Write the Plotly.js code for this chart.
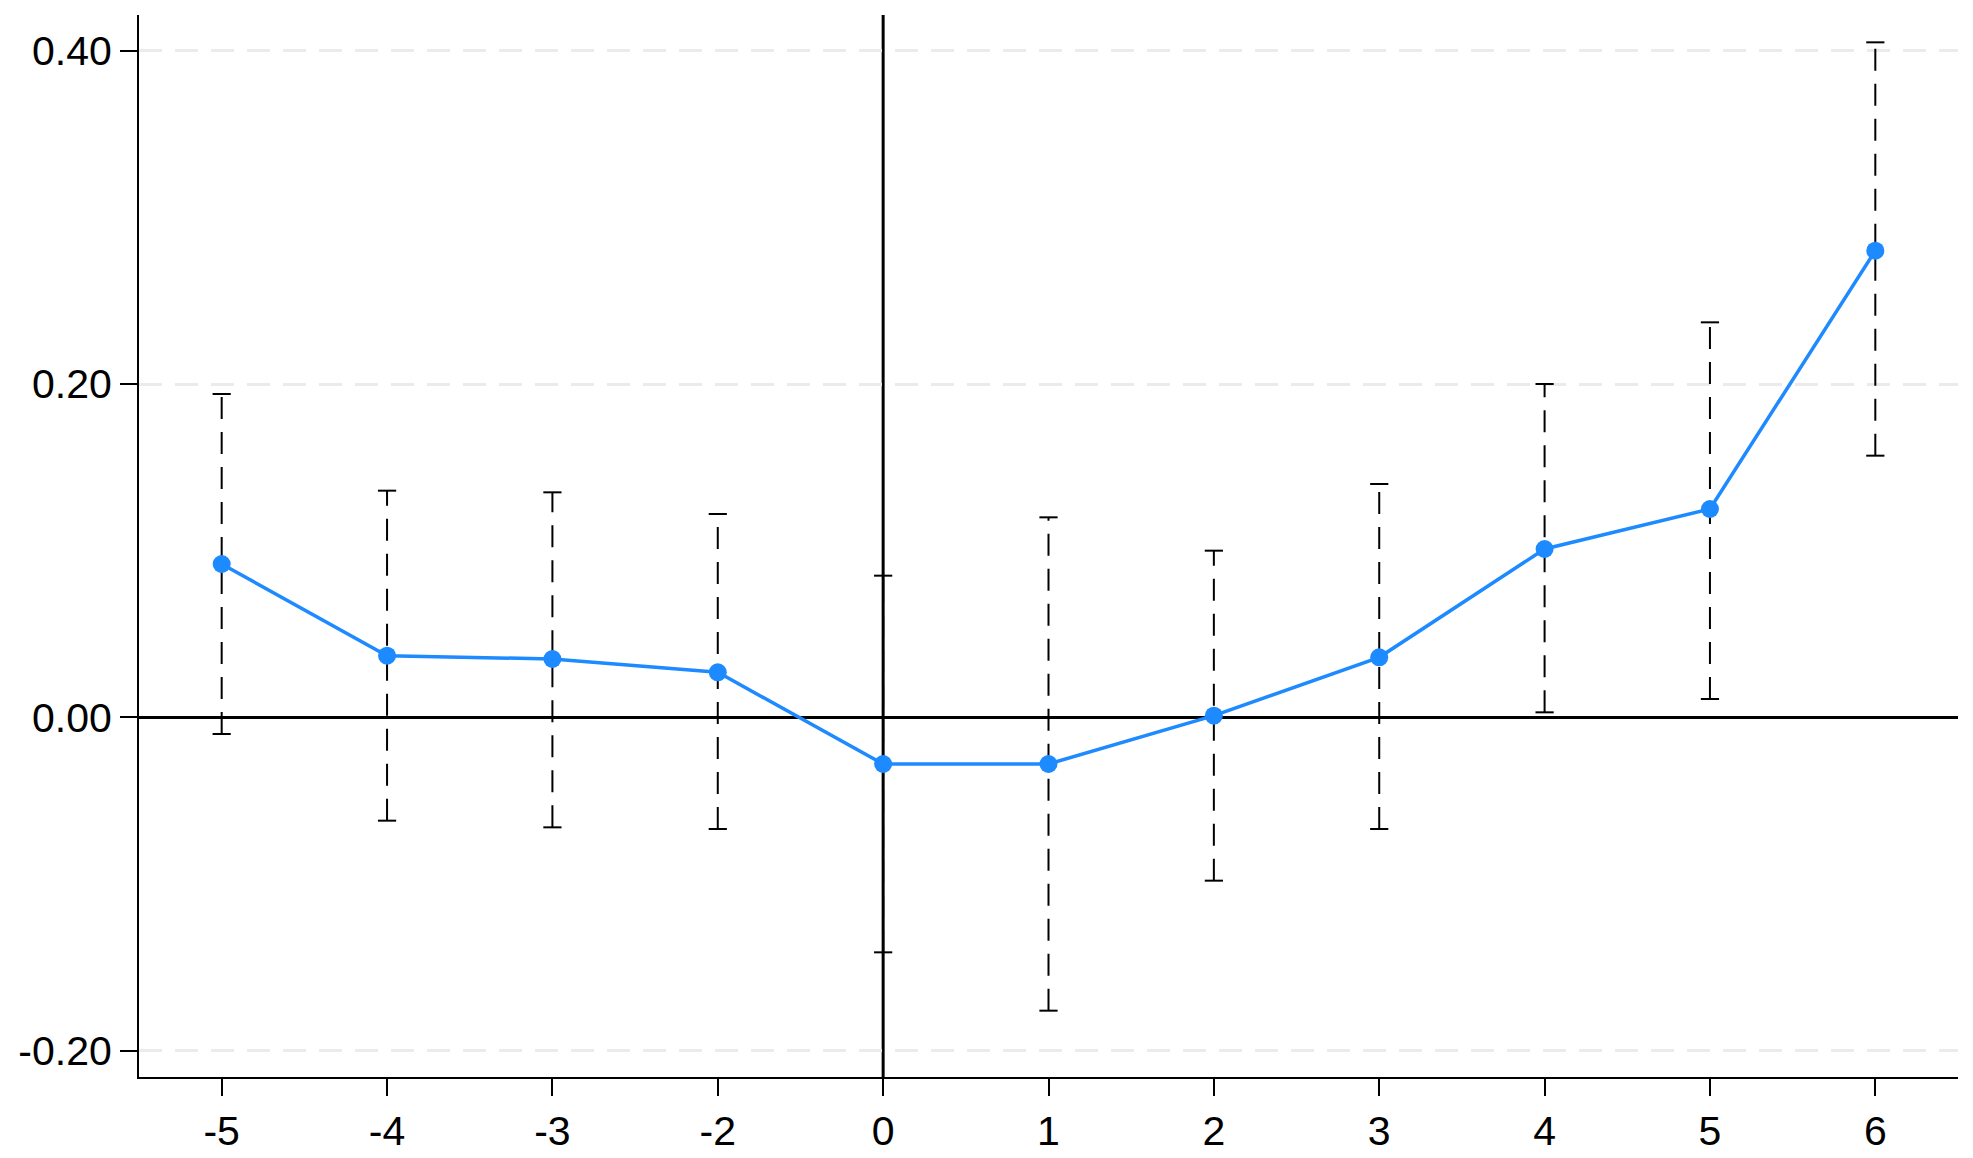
<!DOCTYPE html>
<html>
<head>
<meta charset="utf-8">
<script src="https://cdn.plot.ly/plotly-3.0.1.min.js"></script>
<style>html,body{margin:0;padding:0;background:#fff;}#chart{width:1973px;height:1158px;}</style>
</head>
<body>
<div id="chart"></div>
<script>
// Event-time periods (period -1 is the omitted reference)
const periods = ['-5', '-4', '-3', '-2', '0', '1', '2', '3', '4', '5', '6'];
// Point estimates
const coef = [0.092, 0.037, 0.035, 0.027, -0.028, -0.028, 0.001, 0.036, 0.101, 0.125, 0.280];
// 95% confidence bounds
const ciLow = [-0.010, -0.062, -0.066, -0.067, -0.141, -0.176, -0.098, -0.067, 0.003, 0.011, 0.157];
const ciHigh = [0.194, 0.136, 0.135, 0.122, 0.085, 0.120, 0.100, 0.140, 0.200, 0.237, 0.405];
// Y tick values and labels
const yTicks = [-0.2, 0, 0.2, 0.4];
const yTickLabels = ['-0.20', '0.00', '0.20', '0.40'];
const eventPeriod = '0';

const blue = 'rgb(30,138,255)';
const pos = periods.map((p, i) => i);   // evenly spaced slots, one per period

// dashed CI segments
const ciX = [], ciY = [];
pos.forEach((x, i) => {
  ciX.push(x, x, null);
  ciY.push(ciLow[i], ciHigh[i], null);
});

const traces = [
  {
    x: ciX, y: ciY, type: 'scatter', mode: 'lines',
    line: {color: '#000', width: 2, dash: '22px,13px'},
    hoverinfo: 'skip', showlegend: false
  },
  {
    x: pos.concat(pos), y: ciLow.concat(ciHigh), type: 'scatter', mode: 'markers',
    marker: {symbol: 'line-ew', size: 13, line: {color: '#000', width: 2}},
    hoverinfo: 'skip', showlegend: false
  },
  {
    x: pos, y: coef, type: 'scatter', mode: 'lines+markers',
    line: {color: blue, width: 3.5},
    marker: {color: blue, size: 18},
    showlegend: false
  }
];

const font = {family: '"Liberation Sans", Arial, Helvetica, sans-serif', size: 41, color: '#000'};
const eventX = periods.indexOf(eventPeriod);

const layout = {
  width: 1973, height: 1158,
  margin: {l: 139, r: 15, t: 15, b: 81, pad: 0},
  paper_bgcolor: '#fff', plot_bgcolor: '#fff',
  font: font,
  showlegend: false,
  xaxis: {
    range: [-0.5, periods.length - 0.5],
    tickvals: pos, ticktext: periods,
    showgrid: false, zeroline: false,
    showline: true, linecolor: '#000', linewidth: 2,
    ticks: 'outside', ticklen: 17, tickwidth: 2, tickcolor: '#000',
    tickfont: font
  },
  yaxis: {
    range: [-0.2158, 0.4214],
    tickvals: yTicks, ticktext: yTickLabels,
    showgrid: true, gridcolor: '#ebebeb', gridwidth: 3, griddash: '23px,13px',
    zeroline: true, zerolinecolor: '#000', zerolinewidth: 3,
    showline: true, linecolor: '#000', linewidth: 2,
    ticks: 'outside', ticklen: 17, tickwidth: 2, tickcolor: '#000',
    tickfont: font
  },
  shapes: [{
    type: 'line', xref: 'x', yref: 'paper',
    x0: eventX, x1: eventX, y0: 0, y1: 1,
    line: {color: '#000', width: 3},
    layer: 'between'
  }]
};

Plotly.newPlot('chart', traces, layout, {displayModeBar: false, staticPlot: true});
</script>
</body>
</html>
